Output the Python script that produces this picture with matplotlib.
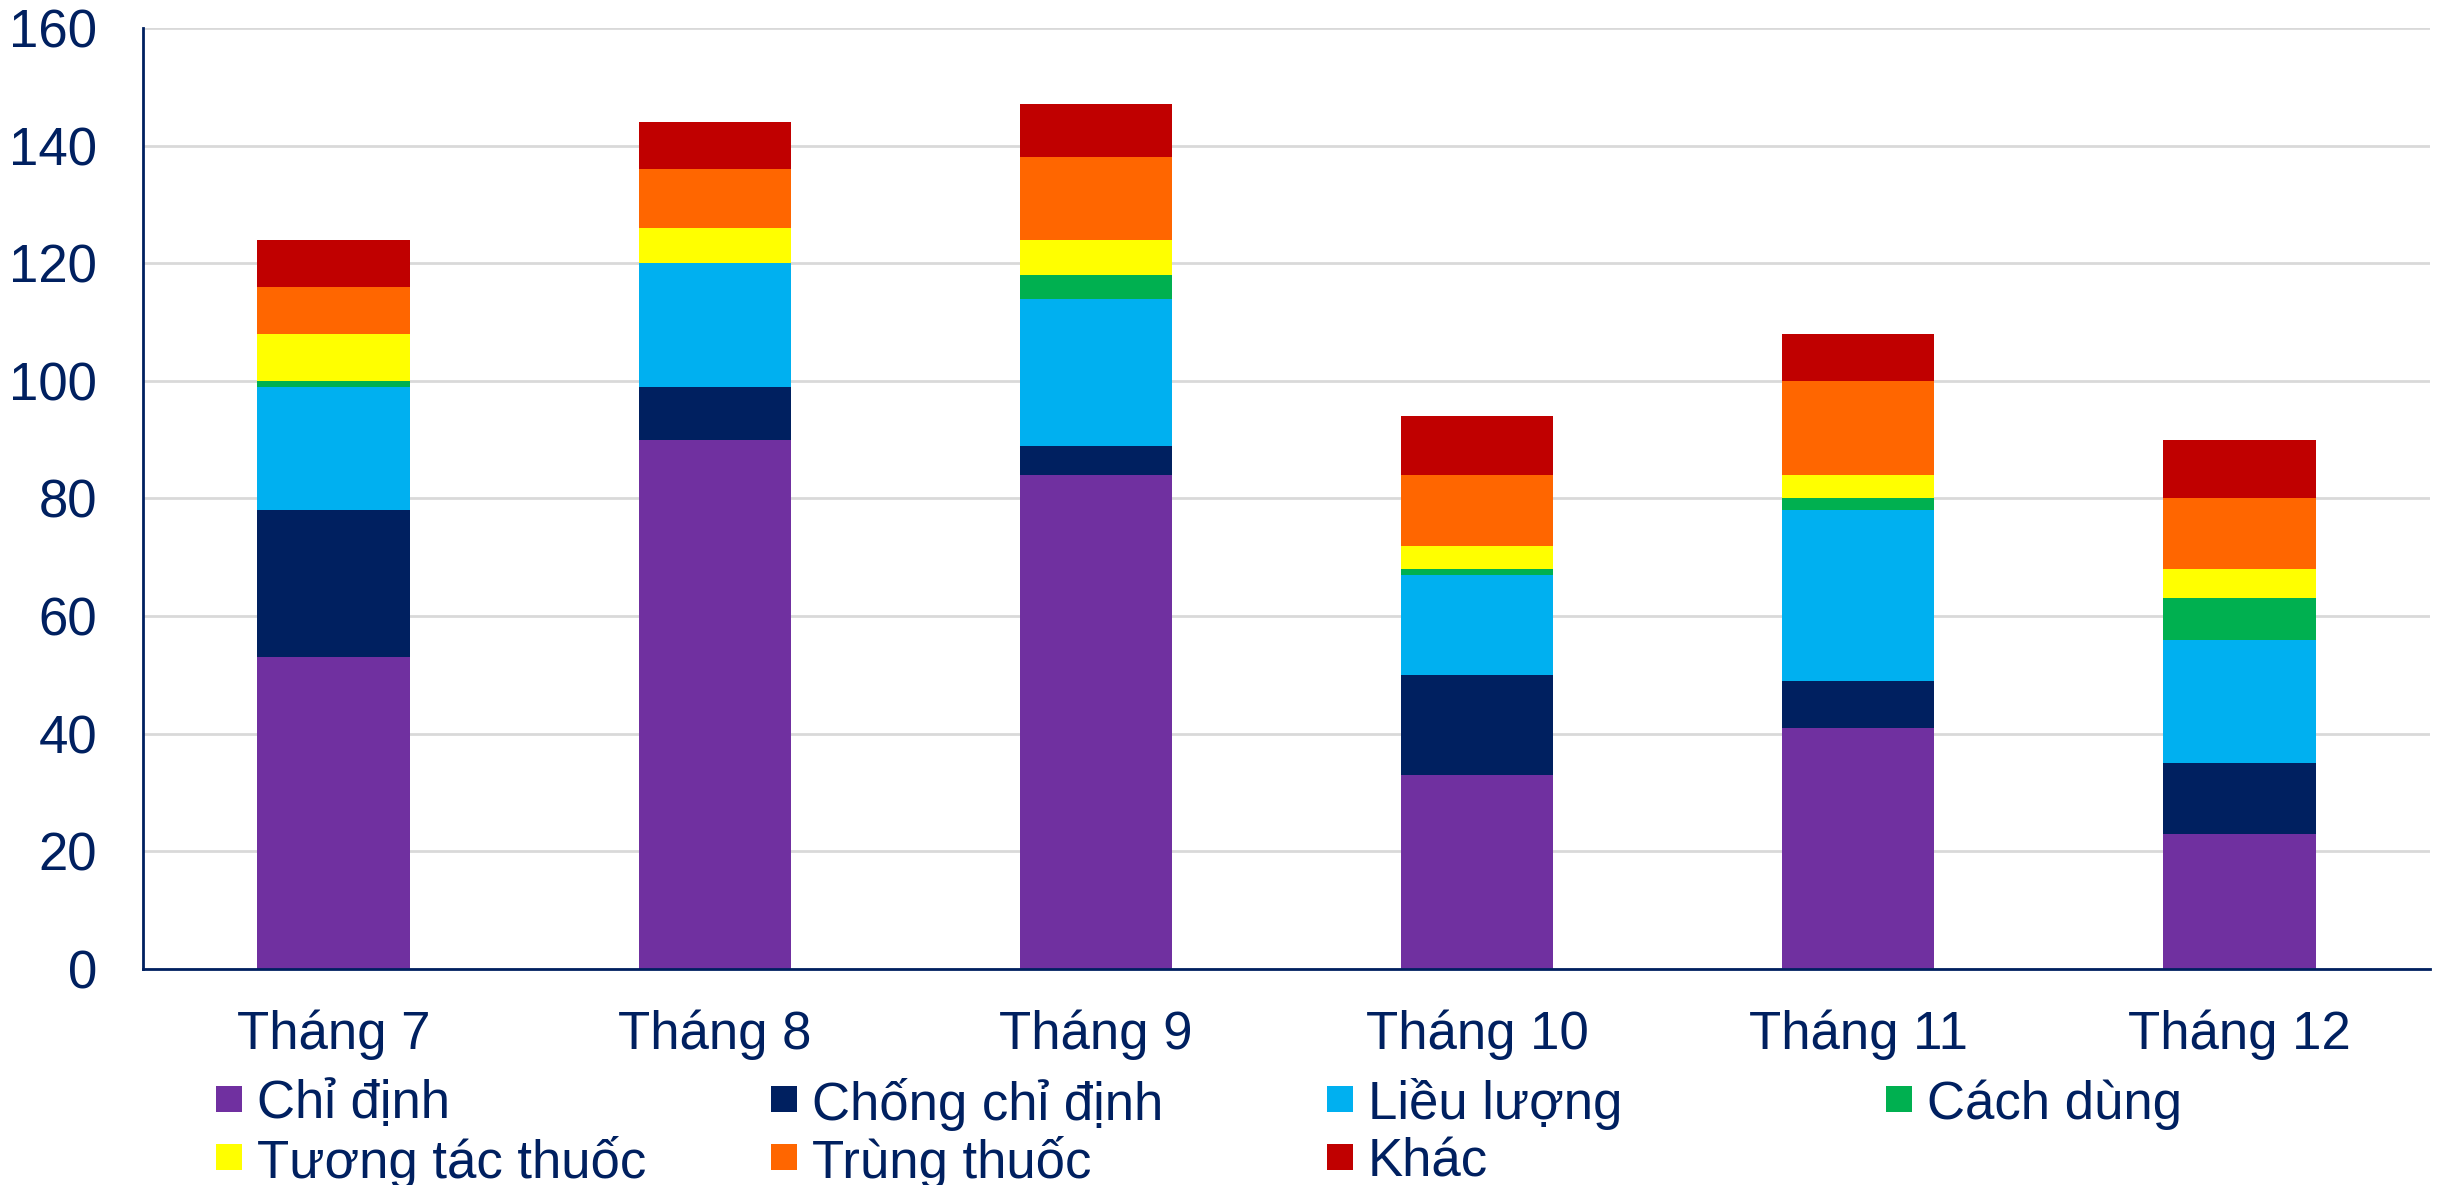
import matplotlib
matplotlib.use("Agg")
import matplotlib.pyplot as plt
from matplotlib.patches import Rectangle
import numpy as np

months = ["Tháng 7", "Tháng 8", "Tháng 9", "Tháng 10", "Tháng 11", "Tháng 12"]
series_names = ["Chỉ định", "Chống chỉ định", "Liều lượng", "Cách dùng",
                "Tương tác thuốc", "Trùng thuốc", "Khác"]
chi_dinh = [53, 90, 84, 33, 41, 23]
chong_chi_dinh = [25, 9, 5, 17, 8, 12]
lieu_luong = [21, 21, 25, 17, 29, 21]
cach_dung = [1, 0, 4, 1, 2, 7]
tuong_tac = [8, 6, 6, 4, 4, 5]
trung_thuoc = [8, 10, 14, 12, 16, 12]
khac = [8, 8, 9, 10, 8, 10]
y_ticks = [0, 20, 40, 60, 80, 100, 120, 140, 160]

colors = ["#7030A0", "#002060", "#00B0F0", "#00B050", "#FFFF00", "#FF6600", "#C00000"]
text_color = "#002060"

plt.rcParams['font.family'] = ['Liberation Sans', 'DejaVu Sans']

fig = plt.figure(figsize=(24.4, 11.85), dpi=100)
ax = fig.add_axes([0.0586, 0.1823, 0.9373, 0.7941])

data = [chi_dinh, chong_chi_dinh, lieu_luong, cach_dung, tuong_tac, trung_thuoc, khac]
x = np.arange(len(months))
bottom = np.zeros(len(months))
for vals, c, name in zip(data, colors, series_names):
    ax.bar(x, vals, 0.4, bottom=bottom, color=c, linewidth=0, label=name, zorder=2)
    bottom += np.array(vals)

ax.set_xlim(-0.5, len(months) - 0.5)
ax.set_ylim(0, 160)
ax.set_yticks(y_ticks)
ax.set_xticks(x)
ax.set_xticklabels(months)
ax.tick_params(axis='both', length=0, labelsize=38, colors=text_color)
ax.tick_params(axis='y', pad=33)
ax.tick_params(axis='x', pad=29)
ax.grid(axis='y', color='#D9D9D9', linewidth=2, zorder=0)
ax.set_axisbelow(True)
for s in ['top', 'right']:
    ax.spines[s].set_visible(False)
for s in ['left', 'bottom']:
    ax.spines[s].set_color(text_color)
    ax.spines[s].set_linewidth(2)
    ax.spines[s].set_zorder(3)

# manual legend (4 equal-width columns, row-major)
W, H = 2440, 1185
col_x = [216, 771, 1327, 1886]
row_y = [1099, 1157]
for i, (name, c) in enumerate(zip(series_names, colors)):
    r, cidx = divmod(i, 4)
    mx = col_x[cidx]
    my = row_y[r]
    fig.add_artist(Rectangle((mx / W, 1 - (my + 13) / H), 26 / W, 26 / H,
                             transform=fig.transFigure, facecolor=c, edgecolor='none'))
    fig.text((mx + 41) / W, 1 - my / H, name, fontsize=38, color=text_color,
             va='center_baseline', ha='left')

fig.savefig("out.png", dpi=100)
